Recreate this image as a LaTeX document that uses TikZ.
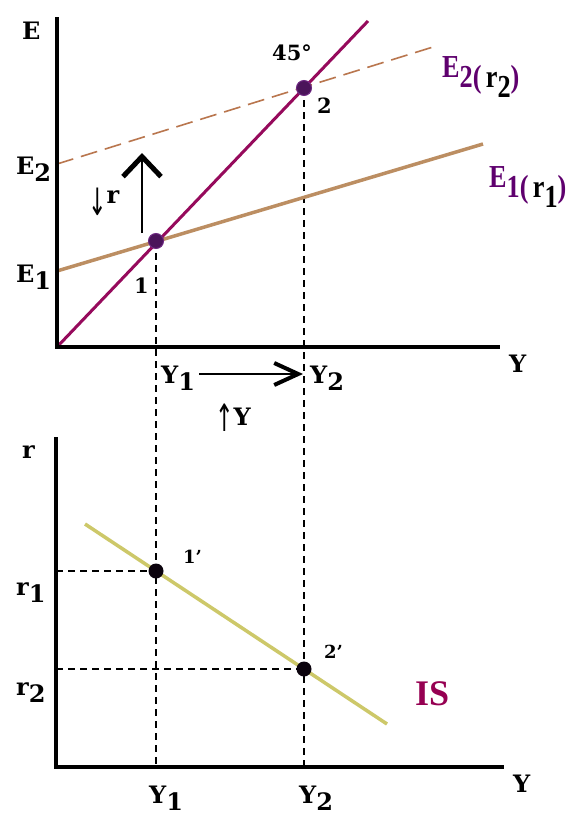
\documentclass[tikz,border=0pt]{standalone}
\usepackage{fontspec}
\setmainfont{DejaVu Serif}
\newfontfamily\condfont{Liberation Serif}
\newfontfamily\arrfont{DejaVu Sans}
\usetikzlibrary{arrows.meta}
\definecolor{diagc}{RGB}{150,10,92}
\definecolor{eonec}{RGB}{188,142,98}
\definecolor{etwoc}{RGB}{185,118,78}
\definecolor{dotc}{RGB}{75,20,90}
\definecolor{dotedge}{RGB}{110,40,130}
\definecolor{isc}{RGB}{205,200,105}
\definecolor{istext}{RGB}{150,0,82}
\definecolor{lblp}{RGB}{95,0,110}
\newcommand{\dn}[1]{\raisebox{-0.32em}{#1}}
\newcommand{\thinarrow}[2]{{\arrfont\mdseries\fontsize{26}{30}\selectfont\raisebox{#2}{\scalebox{0.85}[1.45]{#1}}}}
\begin{document}
\begin{tikzpicture}[x=1pt,y=-1pt,
  lbl/.style={inner sep=0pt, anchor=base west, font=\fontsize{24}{28}\selectfont\bfseries},
  num/.style={inner sep=0pt, anchor=base west, font=\fontsize{21}{24}\selectfont\bfseries},
  nump/.style={inner sep=0pt, anchor=base west, font=\fontsize{18}{22}\selectfont\bfseries},
  elbl/.style={inner sep=0pt, anchor=base west, font=\condfont\fontsize{32}{34}\selectfont\bfseries},
  axis/.style={line width=4pt},
  guide/.style={line width=1.5pt, dash pattern=on 7pt off 5pt},
  dotA/.style={circle, fill=dotc, draw=dotedge, line width=1pt, minimum size=15pt, inner sep=0pt},
  dotB/.style={circle, fill=black!85!dotc, minimum size=15pt, inner sep=0pt},
  bigarrow/.style={line width=2pt, -{Straight Barb[length=20pt,width=38pt,line width=5pt]}},
  yarrow/.style={line width=2pt, -{Straight Barb[length=24pt,width=22pt,line width=4pt]}}]
\useasboundingbox (0,0) rectangle (584,822);
\fill[white] (0,0) rectangle (584,822);

% ---------- top panel coordinates
\coordinate (Otop) at (57,347);
\coordinate (Etop) at (57,17);
\coordinate (Ytop) at (500,347);
\coordinate (p1) at (156,241);
\coordinate (p2) at (304,88);
\coordinate (diagEnd) at (368,21);
\coordinate (e1s) at (57,271);
\coordinate (e1e) at (483,144);
\coordinate (e2s) at (57,164);
\coordinate (e2e) at (433,47);

% ---------- bottom panel coordinates
\coordinate (Obot) at (56,767);
\coordinate (rtop) at (56,437);
\coordinate (Ybot) at (504,767);
\coordinate (q1) at (156,571);
\coordinate (q2) at (304,669);
\coordinate (iss) at (85,524);
\coordinate (ise) at (387,724);
\coordinate (y1b) at (156,767);
\coordinate (y2b) at (304,767);
\coordinate (r1l) at (56,571);
\coordinate (r2l) at (56,669);

% guides
\draw[guide] (p1) -- (y1b);
\draw[guide] (p2) -- (y2b);
\draw[guide] (r1l) -- (q1);
\draw[guide] (r2l) -- (q2);

% curves top
\draw[etwoc, line width=1.6pt, dash pattern=on 17pt off 8pt] (e2s) -- (e2e);
\draw[eonec, line width=3.5pt] (e1s) -- (e1e);
\draw[diagc, line width=3pt] (Otop) -- (diagEnd);

% axes
\draw[axis] (Etop) -- (Otop) -- (Ytop);
\draw[axis] (rtop) -- (Obot) -- (Ybot);

% IS
\draw[isc, line width=3.5pt] (iss) -- (ise);

% dots
\node[dotA] (d1) at (p1) {};
\node[dotA] (d2) at (p2) {};
\node[dotB] (d1b) at (q1) {};
\node[dotB] (d2b) at (q2) {};

% arrows
\coordinate (ua) at (142,233);
\coordinate (ub) at (142,153);
\draw[bigarrow] (ua) -- (ub);
\coordinate (ya) at (199,374);
\coordinate (yb) at (303,374);
\draw[yarrow] (ya) -- (yb);

% labels top
\node[lbl] (lE) at (22,39) {E};
\node[lbl] (lE2) at (16,174) {E\dn{2}};
\node[lbl] (lE1) at (16,282) {E\dn{1}};
\node[lbl] (lYt) at (509,372) {Y};
\node[lbl] (lY1t) at (161,383) {Y\dn{1}};
\node[lbl] (lY2t) at (310,383) {Y\dn{2}};
\node[num] (l1) at (134,293) {1};
\node[num] (l2) at (317,113) {2};
\node[num] (l45) at (272,60) {45°};
\node[lbl] (ldr) at (88,203) {\thinarrow{↓}{-12pt}r};
\node[lbl] (luy) at (215,425) {\thinarrow{↑}{-6pt}Y};
\node[elbl] (lE2r) at (442,77)
  {\scalebox{0.82}[1]{\textcolor{lblp}{E\dn{2(}}\dn{\,r\dn{2}}\textcolor{lblp}{\dn{)}}}};
\node[elbl] (lE1r) at (489,187)
  {\scalebox{0.82}[1]{\textcolor{lblp}{E\dn{1(}}\dn{\,r\dn{1}}\textcolor{lblp}{\dn{)}}}};

% labels bottom
\node[lbl] (lr) at (22,458) {r};
\node[lbl] (lr1) at (16,595) {r\dn{1}};
\node[lbl] (lr2) at (16,695) {r\dn{2}};
\node[nump] (l1p) at (183,563) {1’};
\node[nump] (l2p) at (324,658) {2’};
\node[inner sep=0pt, anchor=base west, font=\condfont\fontsize{36}{40}\selectfont\bfseries, text=istext] (lIS) at (415,705) {IS};
\node[lbl] (lY1b) at (149,803) {Y\dn{1}};
\node[lbl] (lY2b) at (299,803) {Y\dn{2}};
\node[lbl] (lYb) at (513,792) {Y};
\end{tikzpicture}
\end{document}
